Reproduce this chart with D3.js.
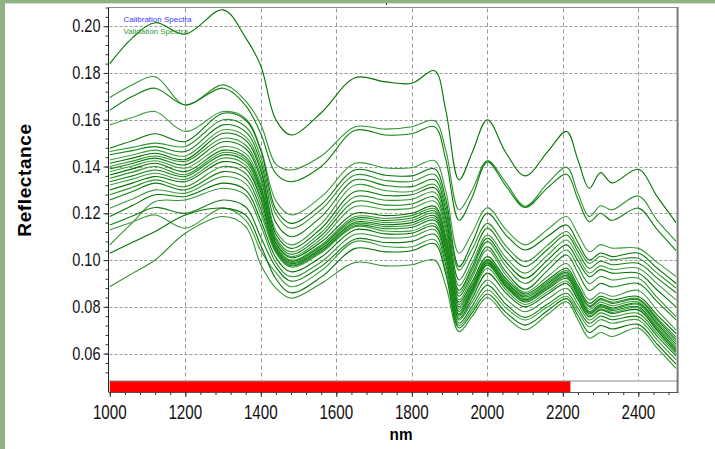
<!DOCTYPE html>
<html><head><meta charset="utf-8">
<script src="https://cdn.jsdelivr.net/npm/d3@7"></script>
<style>
body{margin:0;background:#fff;}
svg{display:block;font-family:"Liberation Sans",Arial,sans-serif;}
</style>
</head><body>
<svg id="chart" width="715" height="449"></svg>
<script>
// ---------- data ----------
const wavelengths = [1000,1060,1120,1200,1300,1360,1400,1440,1480,1560,1650,1730,1800,1860,1890,1925,1960,2000,2050,2100,2160,2210,2240,2270,2300,2330,2400,2450,2500];

const specA  = [.1840,.1950,.2015,.1966,.2070,.1950,.1830,.1600,.1535,.1630,.1780,.1762,.1756,.1810,.1640,.1343,.1460,.1600,.1457,.1360,.1464,.1550,.1428,.1307,.1374,.1330,.1388,.1271,.1160];
const specB1 = [.1695,.1750,.1784,.1663,.1749,.1680,.1580,.1410,.1385,.1445,.1570,.1560,.1570,.1596,.1470,.1215,.1300,.1425,.1329,.1230,.1329,.1397,.1286,.1186,.1232,.1215,.1274,.1170,.1080];
const specB2 = [.1640,.1700,.1735,.1663,.1735,.1660,.1540,.1370,.1335,.1400,.1555,.1535,.1540,.1570,.1430,.1170,.1270,.1420,.1315,.1225,.1310,.1367,.1260,.1164,.1200,.1170,.1222,.1130,.1040];
const specC1 = [.1578,.1610,.1635,.1550,.1635,.1605,.1475,.1253,.1193,.1270,.1414,.1394,.1395,.1425,.1295,.1029,.1117,.1224,.1129,.1065,.1132,.1186,.1111,.1036,.1066,.1051,.1050,.0990,.0930];
const specC2 = [.1478,.1510,.1540,.1507,.1628,.1598,.1468,.1217,.1157,.1237,.1386,.1363,.1360,.1390,.1260,.0972,.1075,.1200,.1106,.1043,.1102,.1150,.1075,.1000,.1030,.1015,.1030,.0965,.0900];
const specC3 = [.1464,.1482,.1500,.1486,.1600,.1570,.1440,.1196,.1136,.1216,.1364,.1340,.1336,.1366,.1236,.0957,.1047,.1157,.1059,.0993,.1064,.1122,.1054,.0986,.1016,.1001,.1008,.0944,.0880];
const specC4 = [.1450,.1468,.1485,.1464,.1578,.1548,.1418,.1160,.1100,.1185,.1343,.1319,.1314,.1344,.1214,.0915,.1014,.1136,.1038,.0972,.1046,.1107,.1036,.0965,.0995,.0980,.0986,.0923,.0860];
const specC5 = [.1428,.1449,.1470,.1445,.1557,.1527,.1397,.1125,.1065,.1155,.1321,.1297,.1293,.1323,.1193,.0890,.0988,.1107,.1009,.0944,.1022,.1086,.1016,.0945,.0975,.0960,.0965,.0898,.0830];
const specC6 = [.1414,.1436,.1457,.1430,.1542,.1512,.1382,.1110,.1050,.1135,.1293,.1276,.1279,.1309,.1179,.0870,.0970,.1093,.0990,.0922,.1001,.1065,.0997,.0929,.0959,.0944,.0944,.0872,.0800];
const specM1 = [.1400,.1423,.1445,.1422,.1521,.1491,.1361,.1095,.1035,.1118,.1271,.1256,.1260,.1290,.1160,.0858,.0957,.1079,.0972,.0900,.0979,.1043,.0972,.0900,.0930,.0915,.0922,.0840,.0758];
const specM2 = [.1390,.1413,.1436,.1407,.1506,.1476,.1346,.1085,.1025,.1104,.1250,.1235,.1240,.1270,.1140,.0845,.0940,.1057,.0948,.0875,.0956,.1022,.0946,.0870,.0900,.0885,.0900,.0822,.0744];
const specM3 = [.1378,.1402,.1425,.1393,.1485,.1455,.1325,.1075,.1015,.1090,.1229,.1216,.1222,.1252,.1122,.0830,.0926,.1043,.0934,.0862,.0930,.0985,.0908,.0830,.0860,.0845,.0870,.0785,.0700];
const specM4 = [.1364,.1390,.1414,.1378,.1470,.1440,.1310,.1070,.1010,.1077,.1200,.1190,.1200,.1230,.1100,.0820,.0908,.1015,.0919,.0855,.0915,.0965,.0890,.0815,.0845,.0830,.0844,.0765,.0685];
const specM5 = [.1350,.1376,.1400,.1365,.1460,.1430,.1300,.1060,.1000,.1065,.1186,.1178,.1190,.1220,.1090,.0810,.0897,.1003,.0910,.0848,.0907,.0955,.0880,.0805,.0835,.0820,.0835,.0752,.0670];
const specM6 = [.1335,.1360,.1385,.1357,.1450,.1420,.1290,.1055,.0995,.1059,.1178,.1169,.1180,.1210,.1080,.0800,.0889,.0998,.0904,.0842,.0900,.0948,.0874,.0800,.0830,.0815,.0830,.0745,.0660];
const specM7 = [.1321,.1346,.1371,.1345,.1436,.1406,.1276,.1050,.0990,.1053,.1170,.1160,.1170,.1200,.1070,.0790,.0881,.0993,.0899,.0836,.0894,.0942,.0866,.0790,.0820,.0805,.0822,.0736,.0650];
const specM8 = [.1300,.1329,.1357,.1335,.1421,.1391,.1261,.1045,.0985,.1047,.1162,.1151,.1160,.1190,.1060,.0780,.0874,.0988,.0893,.0830,.0888,.0935,.0858,.0780,.0810,.0795,.0815,.0728,.0640];
const specM9 = [.1279,.1311,.1343,.1314,.1400,.1370,.1240,.1040,.0980,.1041,.1155,.1143,.1150,.1180,.1050,.0770,.0866,.0983,.0888,.0825,.0882,.0928,.0852,.0775,.0805,.0790,.0810,.0720,.0630];
const specM10= [.1257,.1293,.1329,.1300,.1378,.1348,.1218,.1035,.0975,.1036,.1148,.1134,.1140,.1170,.1040,.0765,.0861,.0978,.0883,.0820,.0876,.0922,.0846,.0770,.0800,.0785,.0800,.0710,.0620];
const specM11= [.1222,.1261,.1300,.1286,.1357,.1327,.1197,.1030,.0970,.1031,.1143,.1124,.1125,.1155,.1025,.0760,.0852,.0965,.0872,.0810,.0865,.0910,.0836,.0762,.0792,.0777,.0795,.0705,.0615];
const specM12= [.1186,.1233,.1279,.1272,.1329,.1299,.1169,.1010,.0950,.1013,.1130,.1112,.1115,.1145,.1015,.0750,.0837,.0944,.0858,.0800,.0855,.0900,.0829,.0757,.0787,.0772,.0787,.0698,.0608];
const specL1 = [.1065,.1160,.1250,.1257,.1307,.1277,.1147,.0989,.0929,.0992,.1110,.1095,.1100,.1130,.1000,.0744,.0821,.0915,.0833,.0779,.0834,.0879,.0812,.0744,.0774,.0759,.0772,.0686,.0600];
const specL2 = [.1150,.1188,.1225,.1200,.1257,.1227,.1097,.0970,.0910,.0973,.1090,.1075,.1080,.1110,.0980,.0730,.0803,.0893,.0810,.0755,.0812,.0858,.0794,.0730,.0760,.0745,.0758,.0674,.0590];
const specL3 = [.1129,.1163,.1193,.1136,.1222,.1170,.1040,.0946,.0886,.0954,.1080,.1058,.1057,.1087,.0957,.0720,.0788,.0872,.0795,.0744,.0800,.0845,.0780,.0715,.0745,.0730,.0744,.0658,.0573];
const specL4 = [.1029,.1076,.1122,.1193,.1222,.1192,.1062,.0920,.0860,.0927,.1050,.1035,.1040,.1070,.0940,.0710,.0775,.0855,.0775,.0722,.0784,.0835,.0763,.0690,.0720,.0705,.0725,.0640,.0555];
const specL5 = [.0886,.0943,.1000,.1115,.1186,.1143,.0980,.0880,.0837,.0900,.0990,.0975,.0980,.1000,.0890,.0694,.0760,.0840,.0757,.0701,.0768,.0822,.0744,.0666,.0690,.0673,.0709,.0623,.0537];

const allSpectra = [specA,specB1,specB2,specC1,specC2,specC3,specC4,specC5,specC6,
  specM1,specM2,specM3,specM4,specM5,specM6,specM7,specM8,specM9,specM10,specM11,specM12,
  specL1,specL2,specL3,specL4,specL5];

const xTickValues = [1000,1200,1400,1600,1800,2000,2200,2400];
const yTickValues = [0.06,0.08,0.10,0.12,0.14,0.16,0.18,0.20];
const legendLabels = ["Calibration Spectra","Validation Spectra"];
const calibrationRange = [1000, 2220];

// ---------- layout ----------
const svg = d3.select("#chart");
const L = 108.5, R = 677.6, T = 7.5, B = 380.5, AX = 392;

// sage frame strips
svg.append("rect").attr("x",0).attr("y",0).attr("width",715).attr("height",3.4).attr("fill","#8fb382");
svg.append("rect").attr("x",0).attr("y",0).attr("width",5).attr("height",449).attr("fill","#8fb382");
svg.append("rect").attr("x",386).attr("y",3.4).attr("width",1).attr("height",1.5).attr("fill","#000");

const x = d3.scaleLinear().domain([1000, 2504]).range([109.8, R]);
const y = d3.scaleLinear().domain([0.0485, 0.208]).range([B, T]);

// grid
const grid = svg.append("g").attr("stroke","#999").attr("stroke-width",1);
grid.selectAll("line.h").data(yTickValues).join("line")
  .attr("x1",L+1).attr("x2",R-1)
  .attr("y1",d=>Math.round(y(d))+0.5).attr("y2",d=>Math.round(y(d))+0.5)
  .attr("stroke-dasharray","3,2");
grid.selectAll("line.v").data(xTickValues.filter(d=>d>1000)).join("line")
  .attr("x1",d=>Math.round(x(d))+0.5).attr("x2",d=>Math.round(x(d))+0.5)
  .attr("y1",T+1).attr("y2",B)
  .attr("stroke-dasharray","4,3");

// spectra
svg.append("clipPath").attr("id","clip").append("rect")
  .attr("x",L+0.5).attr("y",T+0.5).attr("width",R-L-1.5).attr("height",B-T-1);
const line = d3.line()
  .x((d,i)=>x(wavelengths[i]))
  .y(d=>y(d))
  .curve(d3.curveCatmullRom.alpha(0.5));
const greens = ["#007500","#2f942f","#0d800d","#3d9e3d"];
svg.append("g").attr("clip-path","url(#clip)")
  .selectAll("path").data(allSpectra).join("path")
  .attr("d", line)
  .attr("fill","none")
  .attr("stroke",(d,i)=>greens[i%greens.length])
  .attr("stroke-width",1.1);

// calibration range strip
svg.append("rect").attr("x",x(calibrationRange[0])).attr("y",B+0.5)
  .attr("width",x(calibrationRange[1])-x(calibrationRange[0])).attr("height",AX-B-0.5)
  .attr("fill","#ff0000");
svg.append("line").attr("x1",L).attr("x2",R).attr("y1",B+0.5).attr("y2",B+0.5)
  .attr("stroke","#8a8a8a").attr("stroke-width",1);

// frame
svg.append("line").attr("x1",L).attr("x2",R+1).attr("y1",T).attr("y2",T).attr("stroke","#8c8c8c").attr("stroke-width",1.2);
svg.append("line").attr("x1",R).attr("x2",R).attr("y1",T).attr("y2",AX).attr("stroke","#7a7a7a").attr("stroke-width",2);
svg.append("line").attr("x1",L).attr("x2",L).attr("y1",T).attr("y2",AX).attr("stroke","#222").attr("stroke-width",1);

// x axis
const xAxis = svg.append("g").attr("transform",`translate(0,${AX})`);
xAxis.call(d3.axisBottom(x).tickValues(d3.range(1000,2504,40)).tickSize(3).tickFormat(""));
xAxis.call(g=>g.selectAll(".tick line").attr("stroke","#333"));
xAxis.select(".domain").attr("stroke","#555").attr("d",`M${L},0.5H${R+1}`);
const xMaj = svg.append("g").attr("transform",`translate(0,${AX})`)
  .call(d3.axisBottom(x).tickValues(xTickValues).tickSize(5).tickFormat(""));
xMaj.select(".domain").remove();
xMaj.selectAll(".tick line").attr("stroke","#333");
svg.append("g").selectAll("text").data(xTickValues).join("text")
  .attr("transform",d=>`translate(${x(d)},418.5) scale(0.76,1)`)
  .attr("text-anchor","middle").attr("font-size",20).attr("fill","#111")
  .text(d=>d);

// y axis
const yMin = svg.append("g").attr("transform",`translate(${L},0)`)
  .call(d3.axisLeft(y).tickValues(d3.range(0.052,0.2081,0.004)).tickSize(3).tickFormat(""));
yMin.select(".domain").remove();
yMin.selectAll(".tick line").attr("stroke","#333");
const yMaj = svg.append("g").attr("transform",`translate(${L},0)`)
  .call(d3.axisLeft(y).tickValues(yTickValues).tickSize(5).tickFormat(""));
yMaj.select(".domain").remove();
yMaj.selectAll(".tick line").attr("stroke","#333");
svg.append("g").selectAll("text").data(yTickValues).join("text")
  .attr("transform",d=>`translate(100.5,${y(d)+6.2}) scale(0.83,1)`)
  .attr("text-anchor","end").attr("font-size",17.5).attr("fill","#111")
  .text(d=>d3.format(".2f")(d));

// axis titles
svg.append("text").attr("transform","translate(401,440) scale(0.9,1)")
  .attr("text-anchor","middle").attr("font-size",17).attr("font-weight","bold").text("nm");
svg.append("text").attr("transform","translate(31,180) rotate(-90)")
  .attr("text-anchor","middle").attr("font-size",19).attr("font-weight","bold")
  .attr("letter-spacing","0.6").text("Reflectance");

// legend
svg.append("text").attr("x",123.5).attr("y",21.5).attr("font-size",8).attr("fill","#3a3aff").text(legendLabels[0]);
svg.append("text").attr("x",123.5).attr("y",34).attr("font-size",8).attr("fill","#2f9a2f").text(legendLabels[1]);
</script>
</body></html>
